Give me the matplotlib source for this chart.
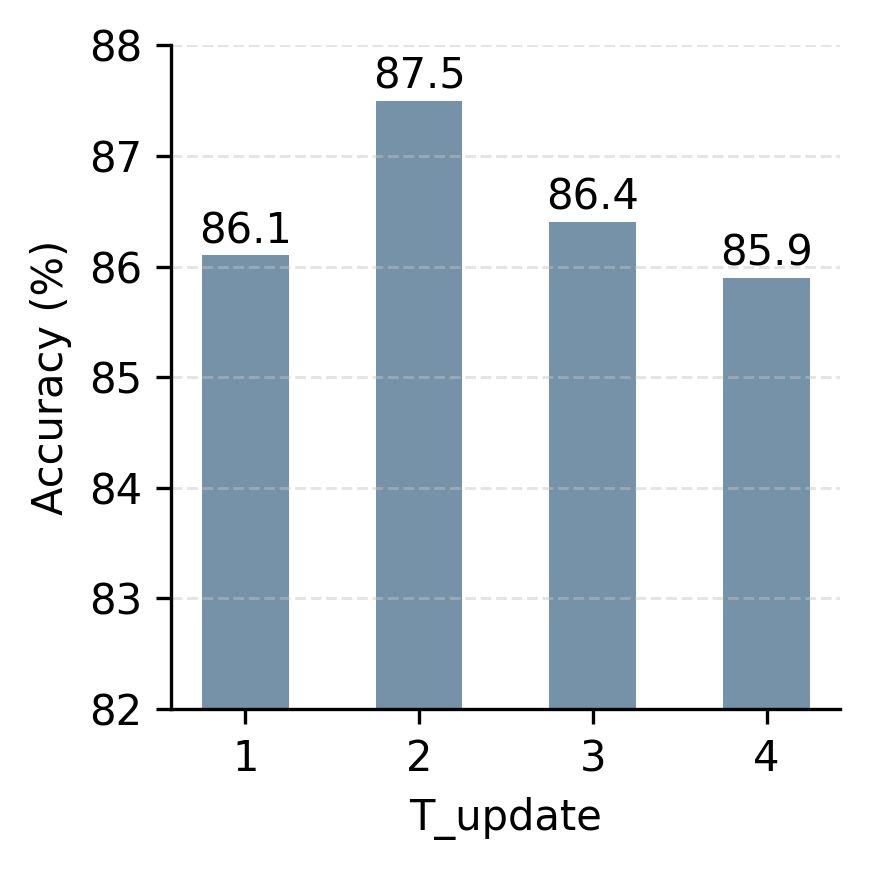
import matplotlib
matplotlib.use("Agg")
import matplotlib.pyplot as plt

categories = ["1", "2", "3", "4"]
values = [86.1, 87.5, 86.4, 85.9]
yticks = [82, 83, 84, 85, 86, 87, 88]

plt.rcParams['font.family'] = ['DejaVu Sans']
fig = plt.figure(figsize=(2.9, 2.9), dpi=300)
ax = fig.add_axes([0.197, 0.185, 0.769, 0.763])
x = list(range(1, len(categories) + 1))
ax.bar(x, values, width=0.5, color="#7692a8", zorder=1)
for xi, v in zip(x, values):
    ax.text(xi, v + 0.03, f"{v:.1f}", ha="center", va="bottom", fontsize=10)
ax.set_xticks(x)
ax.set_xticklabels(categories, fontsize=10)
ax.set_ylim(82, 88)
ax.set_yticks(yticks)
ax.set_yticklabels([str(t) for t in yticks], fontsize=10)
ax.set_xlabel("T_update", fontsize=10)
ax.set_ylabel("Accuracy (%)", fontsize=10)
ax.grid(axis="y", linestyle="--", color="#c4c4c4", alpha=0.45, linewidth=0.7, zorder=1.5)
ax.spines["top"].set_visible(False)
ax.spines["right"].set_visible(False)
ax.tick_params(width=0.8, length=3.5)
fig.savefig("out.png", dpi=300)
